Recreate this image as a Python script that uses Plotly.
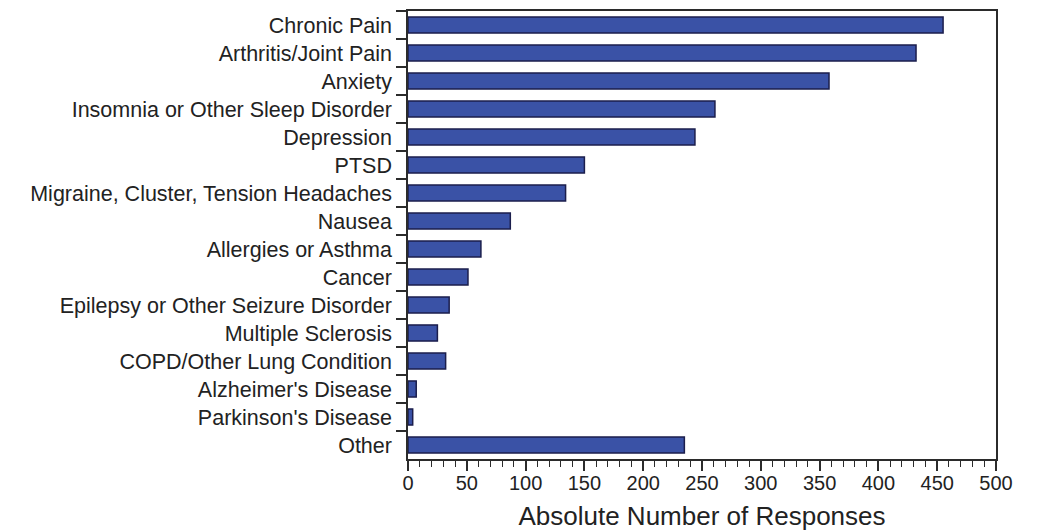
import plotly.graph_objects as go

# Conditions reported, top to bottom
conditions = [
    "Chronic Pain",
    "Arthritis/Joint Pain",
    "Anxiety",
    "Insomnia or Other Sleep Disorder",
    "Depression",
    "PTSD",
    "Migraine, Cluster, Tension Headaches",
    "Nausea",
    "Allergies or Asthma",
    "Cancer",
    "Epilepsy or Other Seizure Disorder",
    "Multiple Sclerosis",
    "COPD/Other Lung Condition",
    "Alzheimer's Disease",
    "Parkinson's Disease",
    "Other",
]
responses = [455, 432, 358, 261, 244, 150, 134, 87, 62, 51, 35, 25, 32, 7, 4, 235]

x_ticks = [0, 50, 100, 150, 200, 250, 300, 350, 400, 450, 500]

FONT = "Liberation Sans, Arial, Helvetica, sans-serif"
AXIS = "#2b2b2b"
TEXT = "#222222"

fig = go.Figure(
    go.Bar(
        x=responses,
        y=conditions,
        orientation="h",
        width=0.58,
        marker=dict(color="#3a52a6", line=dict(color="#1b1e4c", width=1.5)),
        hoverinfo="x+y",
    )
)

fig.update_layout(
    width=1043,
    height=532,
    margin=dict(l=408, r=47, t=11, b=73),
    plot_bgcolor="white",
    paper_bgcolor="white",
    showlegend=False,
    font=dict(family=FONT, color=TEXT),
)

fig.update_xaxes(
    range=[0, 500],
    tickvals=x_ticks,
    ticktext=[str(v) for v in x_ticks],
    ticks="outside",
    ticklen=10,
    tickwidth=1.5,
    tickcolor=AXIS,
    ticklabelstandoff=-5,
    minor=dict(dtick=10, ticks="outside", ticklen=6, tickwidth=1.2, tickcolor=AXIS),
    showline=True,
    linecolor=AXIS,
    linewidth=1.5,
    mirror=True,
    showgrid=False,
    zeroline=False,
    tickfont=dict(size=20, family=FONT, color=TEXT),
    title=dict(text="Absolute Number of Responses", font=dict(size=26, family=FONT, color=TEXT), standoff=14),
    automargin=False,
)

fig.update_yaxes(
    categoryorder="array",
    categoryarray=conditions,
    autorange="reversed",
    tickson="boundaries",
    ticks="outside",
    ticklen=10,
    tickwidth=1.5,
    tickcolor=AXIS,
    ticklabelstandoff=10,
    showline=True,
    linecolor=AXIS,
    linewidth=1.5,
    mirror=True,
    showgrid=False,
    tickfont=dict(size=21.5, family=FONT, color=TEXT),
    automargin=False,
)

fig.write_html("out.html")
